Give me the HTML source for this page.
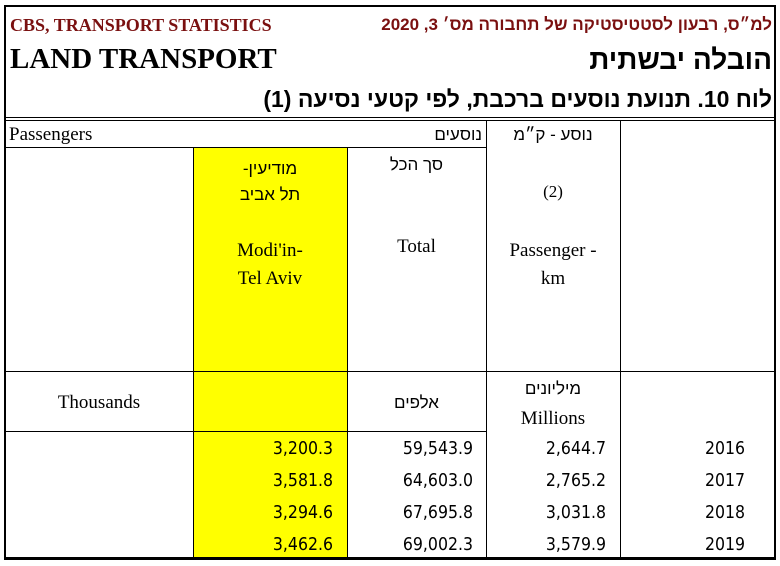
<!DOCTYPE html>
<html><head><meta charset="utf-8"><style>
body{margin:0;width:780px;height:566px;background:#fff;position:relative;overflow:hidden}
div{position:absolute;box-sizing:border-box}
.h{height:1px;background:#000}.v{width:1px;background:#000}
.t{white-space:nowrap;font-family:"Liberation Serif",serif;font-size:19px;color:#000;line-height:1}
.he{font-family:"Liberation Sans","Noto Sans CJK JP",sans-serif}
.n{font-family:"DejaVu Sans Condensed","Liberation Sans",sans-serif;font-size:17.5px;text-align:right}
</style></head><body>
<div style="left:193px;top:147px;width:154px;height:411px;background:#ffff00"></div>
<div class="h" style="left:4px;top:5px;width:772px;height:2px"></div>
<div class="v" style="left:4px;top:5px;width:2px;height:555px"></div>
<div class="v" style="left:774px;top:5px;width:2px;height:555px"></div>
<div class="h" style="left:4px;top:557px;width:772px;height:3px"></div>
<div class="h" style="left:4px;top:117px;width:772px"></div>
<div class="h" style="left:4px;top:120px;width:772px"></div>
<div class="h" style="left:4px;top:147px;width:482px"></div>
<div class="h" style="left:4px;top:371px;width:772px"></div>
<div class="h" style="left:4px;top:431px;width:482px"></div>
<div class="v" style="left:193px;top:147px;height:411px"></div>
<div class="v" style="left:347px;top:147px;height:411px"></div>
<div class="v" style="left:486px;top:120px;height:438px"></div>
<div class="v" style="left:620px;top:120px;height:438px"></div>

<div class="t" style="left:10px;top:16px;font-size:18px;font-weight:bold;color:#7a1010">CBS, TRANSPORT STATISTICS</div>
<div class="t he" style="right:8px;top:16px;font-size:17px;font-weight:bold;color:#7a1010" dir="rtl">למ״ס, רבעון לסטטיסטיקה של תחבורה מס׳ 3, 2020</div>
<div class="t" style="left:10px;top:45px;font-size:29px;font-weight:bold">LAND TRANSPORT</div>
<div class="t he" style="right:8px;top:46px;font-size:28px;font-weight:bold" dir="rtl">הובלה יבשתית</div>
<div class="t he" style="right:8px;top:88px;font-size:23px;font-weight:bold" dir="rtl">לוח 10. תנועת נוסעים ברכבת, לפי קטעי נסיעה (1)</div>

<div class="t" style="left:9px;top:125px">Passengers</div>
<div class="t he" style="right:298px;top:126px;font-size:17px" dir="rtl">נוסעים</div>
<div class="t he" style="left:486px;width:134px;text-align:center;top:126px;font-size:17px" dir="rtl">נוסע - ק״מ</div>
<div class="t he" style="left:193px;width:154px;text-align:center;top:156px;font-size:17px;line-height:26px" dir="rtl">מודיעין-<br>תל אביב</div>
<div class="t he" style="left:347px;width:139px;text-align:center;top:156px;font-size:17px" dir="rtl">סך הכל</div>
<div class="t" style="left:486px;width:134px;text-align:center;top:183px;font-size:17px">(2)</div>
<div class="t" style="left:193px;width:154px;text-align:center;top:237px;line-height:28px">Modi'in-<br>Tel Aviv</div>
<div class="t" style="left:347px;width:139px;text-align:center;top:237px">Total</div>
<div class="t" style="left:486px;width:134px;text-align:center;top:237px;line-height:28px">Passenger -<br>km</div>
<div class="t" style="left:5px;width:188px;text-align:center;top:393px">Thousands</div>
<div class="t he" style="left:347px;width:139px;text-align:center;top:394px;font-size:17px" dir="rtl">אלפים</div>
<div class="t he" style="left:486px;width:134px;text-align:center;top:380px;font-size:17px" dir="rtl">מיליונים</div>
<div class="t" style="left:486px;width:134px;text-align:center;top:409px">Millions</div>

<div class="t n" style="left:193px;width:140px;top:433px;line-height:32px">3,200.3<br>3,581.8<br>3,294.6<br>3,462.6</div>
<div class="t n" style="left:347px;width:126px;top:433px;line-height:32px">59,543.9<br>64,603.0<br>67,695.8<br>69,002.3</div>
<div class="t n" style="left:486px;width:120px;top:433px;line-height:32px">2,644.7<br>2,765.2<br>3,031.8<br>3,579.9</div>
<div class="t n" style="left:620px;width:125px;top:433px;line-height:32px">2016<br>2017<br>2018<br>2019</div>
</body></html>
